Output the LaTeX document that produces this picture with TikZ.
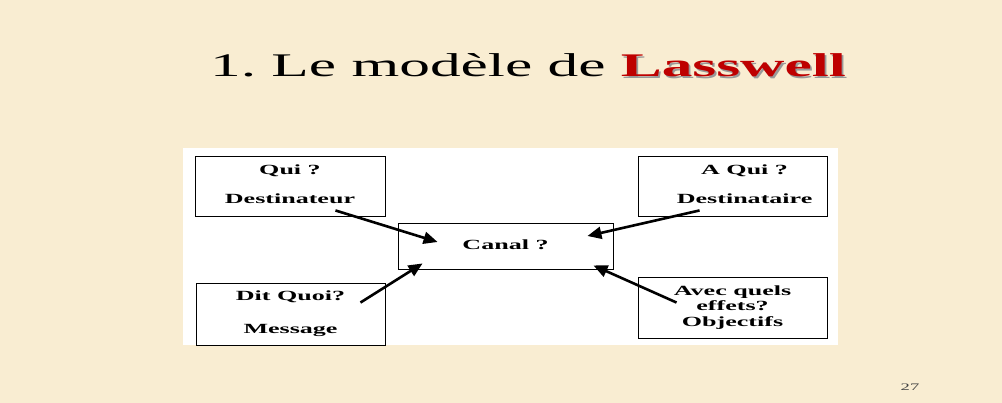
\documentclass[tikz,border=0pt]{standalone}
\usepackage{fontspec}
\setmainfont{Liberation Serif}
\usetikzlibrary{arrows.meta}
\definecolor{parch}{RGB}{249,237,210}
\definecolor{lassred}{RGB}{190,0,0}
\newcommand\wide[1]{\scalebox{1.86}[1]{#1}}
\newcommand\shadowed[1]{\rlap{\hspace{1pt}\raisebox{-1.3pt}{\color{black!40}#1}}{\color{lassred}#1}}
\frenchspacing
\begin{document}
\begin{tikzpicture}[x=1pt,y=-1pt,
  box/.style={draw=black, line width=0.9pt, fill=white, inner sep=0pt,
    font=\bfseries\fontsize{14}{15.5}\selectfont},
  arr/.style={line width=2.6pt, -{Triangle[length=14pt,width=12pt]}},
  titlefont/.style={font=\fontsize{33}{40}\selectfont}]
\useasboundingbox (0,0) rectangle (1002,403);
\fill[parch] (0,0) rectangle (1002,403);
\fill[white] (183,148) rectangle (838,345);

\node[titlefont, anchor=base] (title) at (528,77)
  {\wide{1. Le modèle de \textbf{\shadowed{Lasswell}}}};

\node[box, minimum width=190pt, minimum height=60pt] (qui) at (290,186)
  {\wide{\begin{tabular}{@{}c@{}}Qui ?\\[13pt]Destinateur\end{tabular}}};
\node[box, minimum width=189pt, minimum height=60pt] (aqui) at (732.5,186)
  {\wide{\begin{tabular}{@{\hspace{13pt}}c@{}}A Qui ?\\[13pt]Destinataire\end{tabular}}};
\node[box, minimum width=215pt, minimum height=46pt] (canal) at (505.5,246)
  {\raisebox{2pt}{\wide{Canal ?}}};
\node[box, minimum width=189pt, minimum height=62pt] (dit) at (290.5,314)
  {\wide{\begin{tabular}{@{}c@{}}Dit Quoi?\\[17pt]Message\end{tabular}}};
\node[box, minimum width=189pt, minimum height=61pt] (avec) at (732.5,307.5)
  {\wide{\begin{tabular}{@{}c@{}}Avec quels\\effets?\\Objectifs\end{tabular}}};

\node[font=\fontsize{10}{12}\selectfont, text=black!75] (pg) at (910,387) {\wide{27}};

\draw[arr] ([shift={(-50,-6)}]qui.south east) -- ([shift={(40,-4)}]canal.west);
\draw[arr] ([shift={(62,-6)}]aqui.south west) -- ([shift={(-26,-10)}]canal.east);
\draw[arr] ([shift={(-25,20)}]dit.north east) -- ([shift={(25,-6)}]canal.south west);
\draw[arr] ([shift={(39,26)}]avec.north west) -- ([shift={(-20,-4)}]canal.south east);
\end{tikzpicture}
\end{document}
